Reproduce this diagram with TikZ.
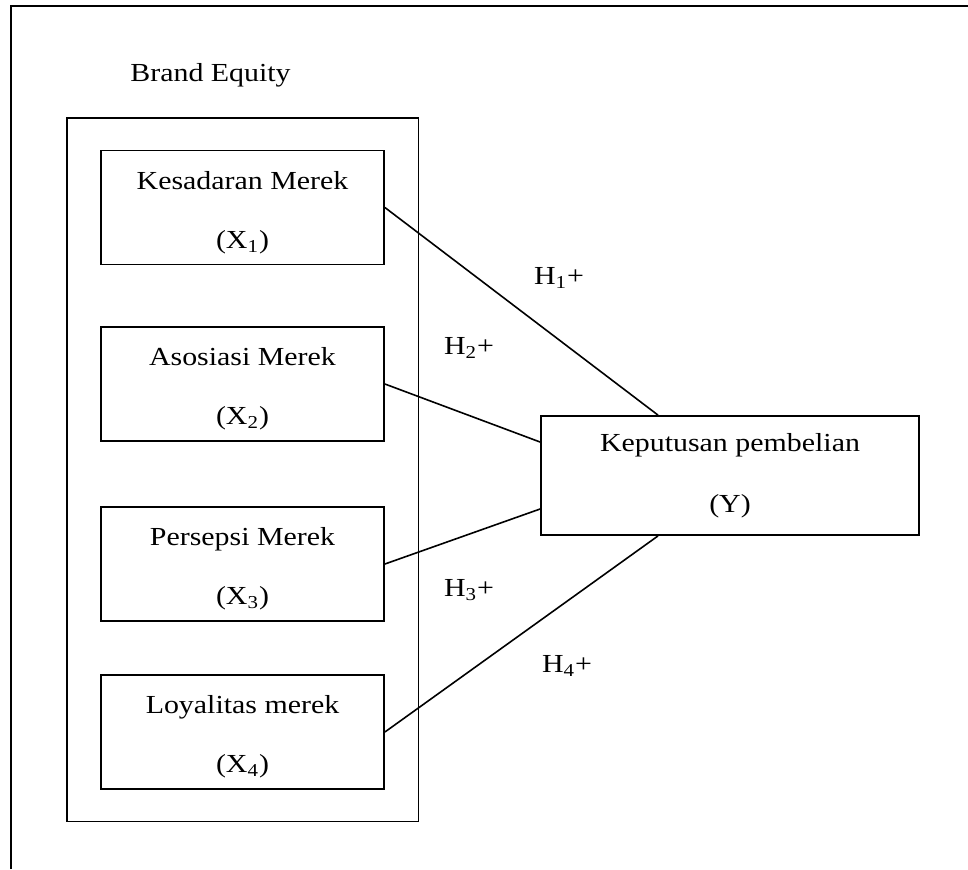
\documentclass[tikz,border=0pt]{standalone}
\usepackage{fontspec}
\setmainfont{Liberation Serif}[FakeStretch=1.15]
\usetikzlibrary{fit}
\newcommand{\boxstrut}{\rule{0pt}{14pt}}

\begin{document}
\begin{tikzpicture}[x=0.5pt,y=-0.5pt,
	every node/.style={font=\fontsize{13}{15.6}\selectfont},
	merek/.style={draw,line width=0.9pt,align=center,minimum width=141.5pt,minimum height=57pt,inner sep=0pt},
	hasil/.style={draw,line width=0.9pt,align=center,minimum width=189pt,minimum height=59.5pt,inner sep=0pt},
	garis/.style={line width=0.8pt}]
		\useasboundingbox (0,0) rectangle (968,869);
		\draw[line width=1pt] (11,869) -- (11,6) -- (968,6);
		\node[anchor=base west,inner sep=0pt] (be) at (130,81) {Brand Equity};
		\node[merek] (k1) at (242.5,207.5) {\boxstrut Kesadaran Merek\\[14pt](X\textsubscript{1})};
		\node[merek] (k2) at (242.5,384) {\boxstrut Asosiasi Merek\\[14pt](X\textsubscript{2})};
		\node[merek] (k3) at (242.5,564) {\boxstrut Persepsi Merek\\[14pt](X\textsubscript{3})};
		\node[merek] (k4) at (242.5,732) {\boxstrut Loyalitas merek\\[14pt](X\textsubscript{4})};
		\node[draw,line width=0.9pt,fit=(k1)(k4),inner xsep=16.75pt,inner ysep=15.75pt] (equity) {};
		\node[hasil] (y) at (730,475.5) {Keputusan pembelian\\[15pt](Y)};
		\draw[garis] (k1.east) -- (y.140);
		\draw[garis] (k2.east) -- (y.170);
		\draw[garis] (k3.east) -- (y.190);
		\draw[garis] (k4.east) -- (y.220);
		\node (h1) at (559,278) {H\textsubscript{1}+};
		\node (h2) at (469,348) {H\textsubscript{2}+};
		\node (h3) at (469,590) {H\textsubscript{3}+};
		\node (h4) at (567,666) {H\textsubscript{4}+};
\end{tikzpicture}
\end{document}
